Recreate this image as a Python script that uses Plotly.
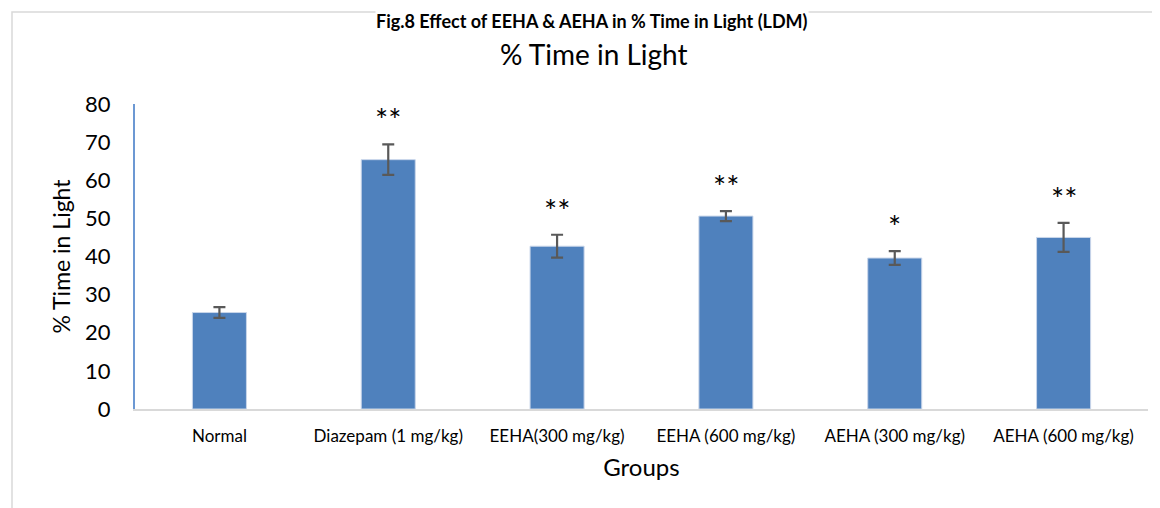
import plotly.graph_objects as go

groups = ["Normal", "Diazepam (1 mg/kg)", "EEHA(300 mg/kg)", "EEHA (600 mg/kg)",
          "AEHA (300 mg/kg)", "AEHA (600 mg/kg)"]
mean_values = [25.3, 65.4, 42.7, 50.6, 39.6, 45.0]
sem_values = [1.4, 4.0, 3.0, 1.3, 1.8, 3.8]
significance = ["", "**", "**", "**", "*", "**"]

FONT = "Lato"
OFF = 8  # page body margin offset
W, H = 1160, 508
# desired screen positions of the plot area
SX0, SX1, SY0, SY1 = 135, 1148, 104, 409
L = SX0 - OFF
T = SY0 - OFF
R = W - (SX1 - OFF)
B = H - (SY1 - OFF)
pw, ph = W - L - R, H - T - B

def px(x):  # screen x -> paper
    return (x - OFF - L) / pw

def py(y):  # screen y -> paper
    return (H - B - (y - OFF)) / ph

fig = go.Figure()
fig.add_trace(go.Bar(
    x=groups, y=mean_values, width=0.32,
    marker=dict(color="#4f81bd", line=dict(color="#c9d6ea", width=1)),
    error_y=dict(type="data", array=sem_values, visible=True,
                 color="#595959", thickness=2.2, width=6),
    showlegend=False,
))

for g, m, s, sig in zip(groups, mean_values, sem_values, significance):
    if sig:
        fig.add_annotation(x=g, y=m + s, text=sig, showarrow=False,
                           xref="x", yref="y", yanchor="bottom", yshift=4,
                           font=dict(family=FONT, size=31, color="#000000"))

# chart frame
fig.add_shape(type="rect", xref="paper", yref="paper",
              x0=px(12), x1=px(1190), y0=py(540), y1=py(12),
              line=dict(color="#d9d9d9", width=1.5), layer="below")

# figure caption
fig.add_annotation(x=px(592), y=py(21), xref="paper", yref="paper",
                   text="<b>Fig.8 Effect of EEHA &amp; AEHA in % Time in Light (LDM)</b>",
                   showarrow=False, xanchor="center", yanchor="middle",
                   bgcolor="white", borderpad=0,
                   font=dict(family=FONT, size=18, color="#000000"))
# chart title
fig.add_annotation(x=px(594), y=py(54), xref="paper", yref="paper",
                   text="% Time in Light", showarrow=False,
                   xanchor="center", yanchor="middle",
                   font=dict(family=FONT, size=28, color="#000000"))

fig.update_layout(
    width=W, height=H,
    margin=dict(l=L, r=R, t=T, b=B, autoexpand=False),
    paper_bgcolor="white", plot_bgcolor="white",
    font=dict(family=FONT, color="#000000"),
    xaxis=dict(
        showline=True, linecolor="#d9d9d9", linewidth=2,
        showgrid=False, zeroline=False, ticks="",
        tickfont=dict(size=17, family=FONT), ticklabelstandoff=11,
        title=dict(text="Groups", font=dict(size=24, family=FONT), standoff=14),
        automargin=False,
    ),
    yaxis=dict(
        range=[0, 80], dtick=10, tick0=0,
        showline=True, linecolor="#6c98d3", linewidth=2,
        showgrid=False, zeroline=False, ticks="",
        tickfont=dict(size=22, family=FONT), ticklabelstandoff=18,
        title=dict(text="% Time in Light", font=dict(size=23, family=FONT), standoff=8),
        automargin=False,
    ),
)

fig.write_html("out.html")
